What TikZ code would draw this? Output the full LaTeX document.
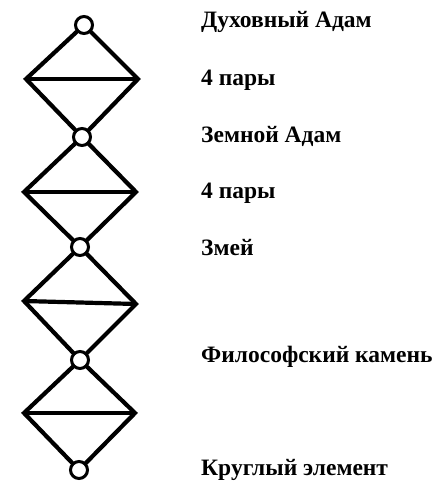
\documentclass[tikz,border=0pt]{standalone}
\usepackage{fontspec}
\setmainfont{Liberation Serif}
\begin{document}
\begin{tikzpicture}[x=1pt,y=-1pt,
  knot/.style={circle,draw,line width=3pt,fill=white,inner sep=0pt,minimum size=17pt},
  edge/.style={line width=4.2pt,line join=miter},
  label/.style={anchor=west,inner sep=0pt,font=\bfseries\fontsize{23.5}{26}\selectfont}]
  \useasboundingbox (0,0) rectangle (442,500);
  % chain of knots
  \coordinate (c1) at (84,25);
  \coordinate (c2) at (82,137);
  \coordinate (c3) at (80,247);
  \coordinate (c4) at (80,360);
  \coordinate (c5) at (79,470);
  % diamond corners
  \coordinate (l1) at (26,79);  \coordinate (r1) at (138,79);
  \coordinate (l2) at (24,192); \coordinate (r2) at (136,192);
  \coordinate (l3) at (24,301); \coordinate (r3) at (136,304);
  \coordinate (l4) at (24,413); \coordinate (r4) at (135,413);
  \foreach \i/\j in {1/2,2/3,3/4,4/5} {
    \draw[edge] (c\i) -- (l\i) -- (c\j) -- (r\i) -- cycle;
    \draw[edge] (l\i) -- (r\i);
  }
  \foreach \i in {1,...,5}
    \node[knot] (k\i) at (c\i) {};
  % captions
  \node[label] (t1) at (201,22) {Духовный Адам};
  \node[label] (t2) at (201,80) {4 пары};
  \node[label] (t3) at (201,136) {Земной Адам};
  \node[label] (t4) at (201,193) {4 пары};
  \node[label] (t5) at (201,248) {Змей};
  \node[label] (t6) at (201,357) {Философский камень};
  \node[label] (t7) at (201,470) {Круглый элемент};
\end{tikzpicture}
\end{document}
